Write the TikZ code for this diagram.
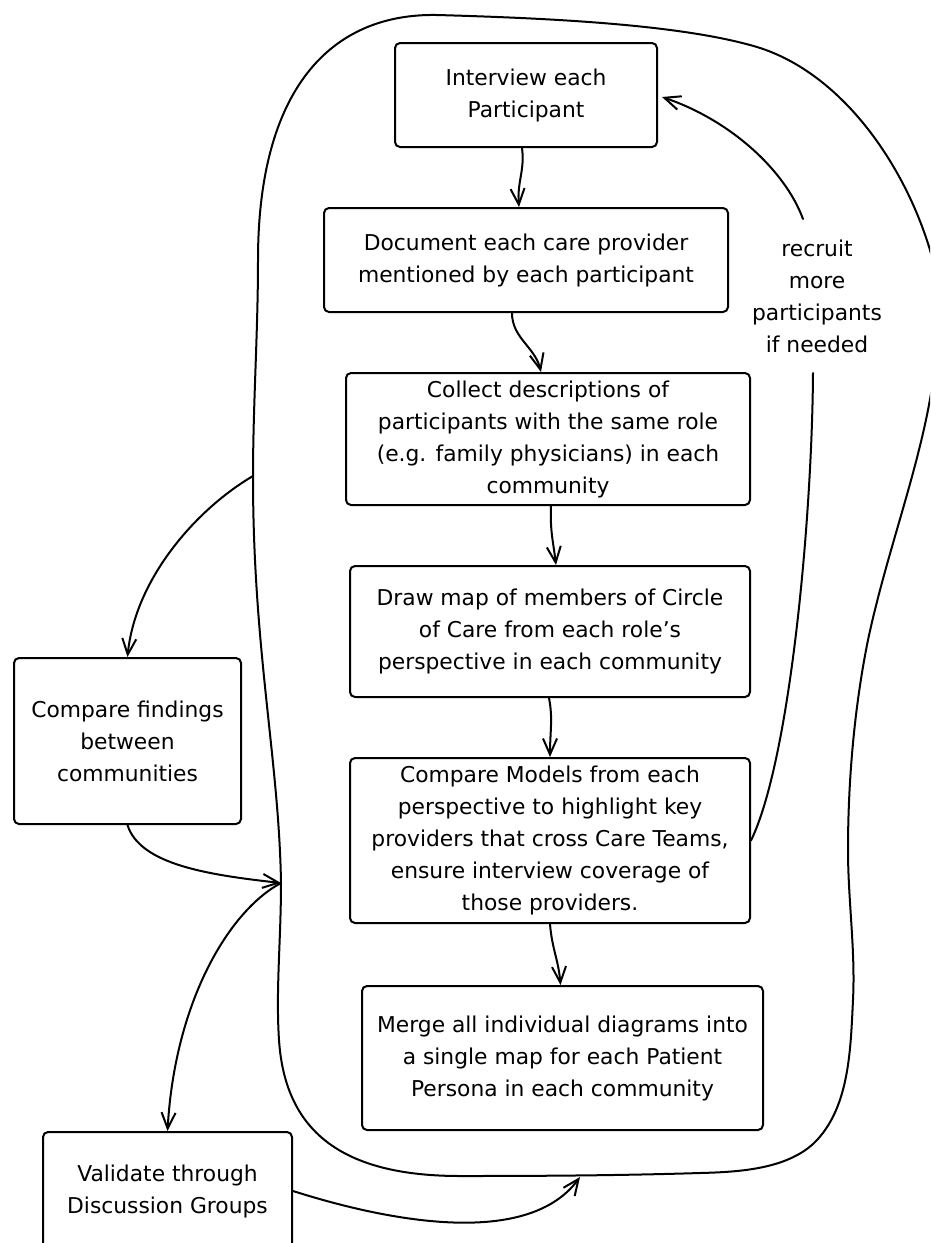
\documentclass[tikz,border=0pt]{standalone}
\usepackage{fontspec}
\setmainfont{DejaVu Sans}
\usetikzlibrary{arrows.meta}
\begin{document}
\begin{tikzpicture}[x=1pt,y=-1pt,line width=2pt,line cap=round,line join=round,
  txt/.style={align=center,font=\fontsize{21.8}{32}\selectfont,inner sep=0pt},
  box/.style={txt,draw,rounded corners=5pt},
  flow/.style={-{Straight Barb[length=16pt,width=14pt]}}]
\useasboundingbox (0,0) rectangle (930,1243);
\clip (0,0) rectangle (930,1243);
% enclosing loop
\draw (437,15) .. controls (544,18) and (680,24) .. (757,47)
  .. controls (842,73) and (904.5,165) .. (930,250)
  .. controls (945,301) and (938,358) .. (928,410)
  .. controls (913,485.5) and (885,560) .. (868,640)
  .. controls (855,704) and (848,777) .. (848,850)
  .. controls (848,900) and (855.5,950) .. (853,1000)
  .. controls (850.6,1048) and (849.6,1105) .. (817,1140)
  .. controls (790,1169) and (740,1172) .. (700,1173)
  .. controls (620,1175.5) and (540,1176) .. (460,1176)
  .. controls (340,1176) and (285,1130) .. (279,1040)
  .. controls (275.7,990) and (281,940) .. (281,883)
  .. controls (279,760) and (253,650) .. (253,477)
  .. controls (253,405) and (258,332) .. (258,260)
  .. controls (258,90) and (330,13) .. cycle;
\coordinate (ltop) at (253,476);
\coordinate (lmid) at (281,883);
\coordinate (lbot) at (580,1177);
% boxes
\node[box,minimum width=262pt,minimum height=104pt] (interview) at (526,95) {Interview each\\Participant};
\node[box,minimum width=404pt,minimum height=104pt] (document) at (526,260) {Document each care provider\\mentioned by each participant};
\node[box,minimum width=404pt,minimum height=132pt] (collect) at (548,439) {Collect descriptions of\\participants with the same role\\(e.g. family physicians) in each\\community};
\node[box,minimum width=400pt,minimum height=131pt] (drawmap) at (550,631.5) {Draw map of members of Circle\\of Care from each role's\\perspective in each community};
\node[box,minimum width=400pt,minimum height=165pt] (compare) at (550,840.5) {Compare Models from each\\perspective to highlight key\\providers that cross Care Teams,\\ensure interview coverage of\\those providers.};
\node[box,minimum width=401pt,minimum height=144pt] (merge) at (562.5,1058) {Merge all individual diagrams into\\a single map for each Patient\\Persona in each community};
\node[box,minimum width=227pt,minimum height=166pt] (findings) at (127.5,741) {Compare findings\\between\\communities};
\node[box,minimum width=249pt,minimum height=118pt] (validate) at (167.5,1191) {Validate through\\Discussion Groups};
\node[txt,minimum height=152pt] (recruit) at (817,296) {recruit\\more\\participants\\if needed};
% main flow
\draw[flow] ([xshift=-4pt]interview.south) .. controls +(3,22) and +(-2,-25) .. ([xshift=-7pt]document.north);
\draw[flow] ([xshift=-14pt]document.south) .. controls +(0,25) and +(-6,-25) .. ([xshift=-7pt]collect.north);
\draw[flow] ([xshift=3pt]collect.south) .. controls +(-1,25) and +(-3,-25) .. ([xshift=6pt]drawmap.north);
\draw[flow] ([xshift=-1pt]drawmap.south) .. controls +(4,20) and +(0,-25) .. (compare.north);
\draw[flow] (compare.south) .. controls +(2,25) and +(-2,-25) .. ([xshift=-2pt]merge.north);
% recruit loop
\draw (compare.east) .. controls (790,760) and (812,520) .. ([xshift=-4pt]recruit.south);
\draw[flow] ([xshift=-14pt]recruit.north) .. controls (785,170) and (730,120) .. ([xshift=4pt,yshift=-2pt]interview.east);
% side arrows
\draw[flow] (ltop) .. controls (195,510) and (135,580) .. (findings.north);
\draw[flow] (findings.south) .. controls (140,865) and (210,875) .. (lmid);
\draw[flow] (lmid) .. controls (230,910) and (175,1000) .. (validate.north);
\draw[flow] (validate.east) .. controls (400,1225) and (530,1245) .. (lbot);
\end{tikzpicture}
\end{document}
